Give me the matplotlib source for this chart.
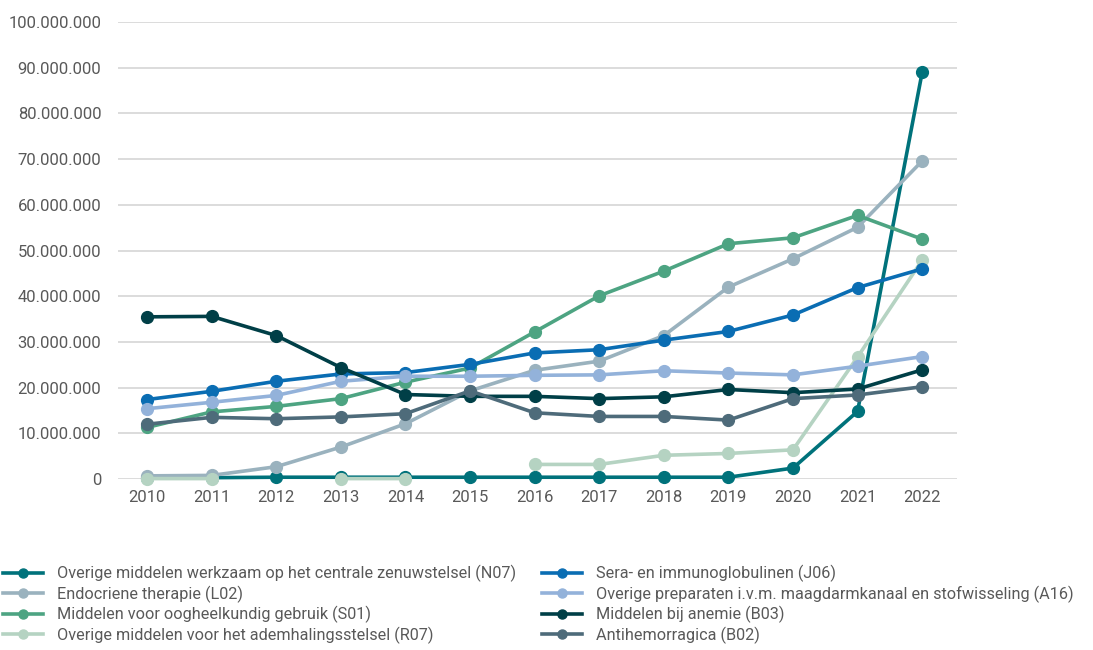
import matplotlib
matplotlib.use("Agg")
import matplotlib.pyplot as plt
from matplotlib.lines import Line2D
from matplotlib.ticker import FuncFormatter
import numpy as np

years = list(range(2010, 2023))

n07 = [0.3, 0.3, 0.4, 0.4, 0.4, 0.4, 0.4, 0.4, 0.4, 0.4, 2.4, 14.8, 89.0]
l02 = [0.7, 0.8, 2.7, 7.0, 12.1, 19.3, 23.8, 25.8, 31.4, 42.0, 48.2, 55.1, 69.6]
s01 = [11.3, 14.7, 15.9, 17.6, 21.2, 24.3, 32.2, 40.1, 45.5, 51.5, 52.8, 57.7, 52.5]
r07 = [0.1, 0.1, None, 0.1, 0.1, None, 3.2, 3.2, 5.2, 5.6, 6.4, 26.7, 47.9]
j06 = [17.4, 19.2, 21.4, 23.0, 23.3, 25.1, 27.6, 28.3, 30.4, 32.3, 35.9, 41.9, 46.0]
a16 = [15.4, 16.8, 18.3, 21.4, 22.5, 22.5, 22.7, 22.8, 23.7, 23.2, 22.8, 24.7, 26.8]
b03 = [35.5, 35.6, 31.4, 24.4, 18.5, 18.1, 18.1, 17.6, 18.0, 19.6, 18.9, 19.7, 23.9]
b02 = [12.0, 13.5, 13.2, 13.6, 14.3, 19.3, 14.5, 13.7, 13.7, 12.9, 17.6, 18.4, 20.2]

labels = [
    "Overige middelen werkzaam op het centrale zenuwstelsel (N07)",
    "Endocriene therapie (L02)",
    "Middelen voor oogheelkundig gebruik (S01)",
    "Overige middelen voor het ademhalingsstelsel (R07)",
    "Sera- en immunoglobulinen (J06)",
    "Overige preparaten i.v.m. maagdarmkanaal en stofwisseling (A16)",
    "Middelen bij anemie (B03)",
    "Antihemorragica (B02)",
]
series = [n07, l02, s01, r07, j06, a16, b03, b02]
colors = ["#00727B", "#9AB2BE", "#4DA482", "#B5D3C2",
          "#0A6DB3", "#93B2DA", "#003F47", "#4E6B7A"]

plt.rcParams["font.family"] = ["Roboto", "DejaVu Sans"]
text_color = "#595959"

fig = plt.figure(figsize=(10.93, 6.5), dpi=100)
ax = fig.add_axes([0.108, 0.263, 0.7676, 0.703])

for vals, col in zip(series, colors):
    y = np.array([np.nan if v is None else v * 1e6 for v in vals])
    ax.plot(years, y, color=col, lw=2.6, marker="o", ms=8.5,
            clip_on=False, solid_capstyle="round", zorder=3)

ax.set_ylim(0, 100e6)
ax.set_xlim(2009.55, 2022.54)
ax.set_yticks(np.arange(0, 100e6 + 1, 10e6))
ax.yaxis.set_major_formatter(FuncFormatter(lambda v, p: f"{int(v):,}".replace(",", ".")))
ax.set_xticks(years)
ax.grid(axis="y", color="#D9D9D9", lw=1.3)
ax.set_axisbelow(True)
for s in ax.spines.values():
    s.set_visible(False)
ax.tick_params(length=0, labelsize=12, colors=text_color, pad=8)
ax.tick_params(axis="y", pad=12)

handles = [Line2D([0], [0], color=c, lw=2.6, marker="o", ms=6.5) for c in colors]
fig.legend(handles, labels, loc="upper left", bbox_to_anchor=(0.003, 0.131),
           ncol=2, frameon=False, fontsize=11.7, labelcolor=text_color,
           handlelength=2.45, handletextpad=0.85, columnspacing=1.6,
           labelspacing=0.2, borderaxespad=0, borderpad=0)

fig.savefig("out.png", dpi=100)
